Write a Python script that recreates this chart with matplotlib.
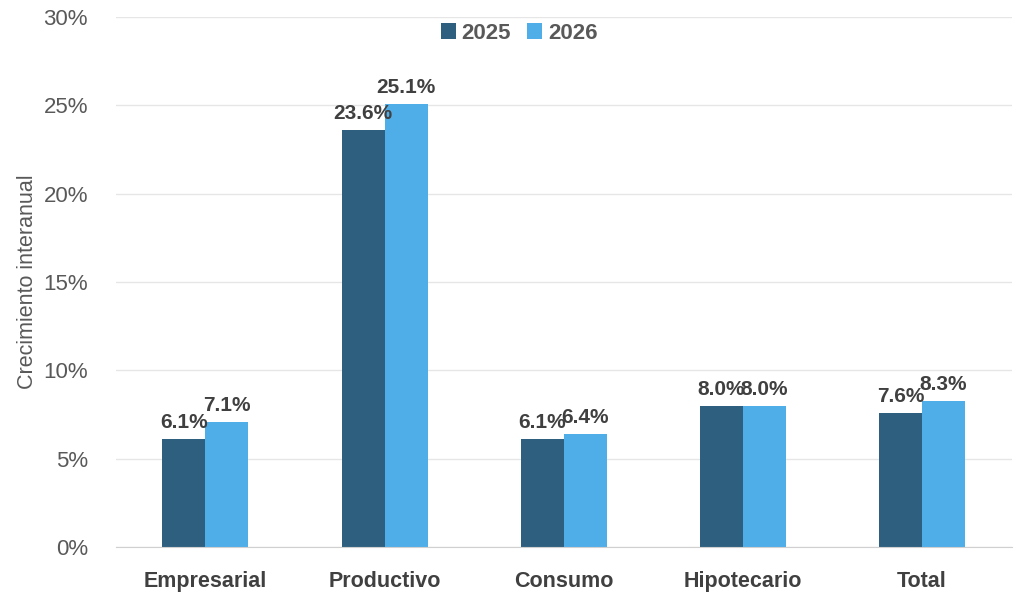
import matplotlib
matplotlib.use("Agg")
import matplotlib.pyplot as plt
import numpy as np
from matplotlib.ticker import FuncFormatter

categories = ["Empresarial", "Productivo", "Consumo", "Hipotecario", "Total"]
growth_2025 = [6.1, 23.6, 6.1, 8.0, 7.6]
growth_2026 = [7.1, 25.1, 6.4, 8.0, 8.3]

plt.rcParams['font.family'] = ['Liberation Sans', 'DejaVu Sans']

color_2025 = "#2E5F7F"
color_2026 = "#4FADE8"
text_gray = "#595959"
label_gray = "#404040"

fig = plt.figure(figsize=(10.24, 6.08), dpi=100)
ax = fig.add_axes([0.113, 0.1, 0.875, 0.872])

x = np.arange(len(categories))
w = 0.24
b1 = ax.bar(x - w / 2, growth_2025, w, color=color_2025, label="2025")
b2 = ax.bar(x + w / 2, growth_2026, w, color=color_2026, label="2026")

# data labels
for bars, vals in [(b1, growth_2025), (b2, growth_2026)]:
    for rect, v in zip(bars, vals):
        ax.annotate(f"{v:.1f}%", (rect.get_x() + rect.get_width() / 2, v),
                    xytext=(0, 5), textcoords="offset points",
                    ha="center", va="bottom", fontsize=15, fontweight="bold",
                    color=label_gray)

ax.set_xlim(-0.5, len(categories) - 0.5)
ax.set_ylim(0, 30)
ax.set_yticks(np.arange(0, 31, 5))
ax.yaxis.set_major_formatter(FuncFormatter(lambda v, p: f"{v:.0f}%"))
ax.set_xticks(x)
ax.set_xticklabels(categories, fontsize=15.5, fontweight="bold", color=label_gray)
ax.tick_params(axis="y", labelsize=16, labelcolor=text_gray, length=0, pad=20)
ax.tick_params(axis="x", length=0, pad=17)

ax.grid(axis="y", color="#E6E6E6", linewidth=1)
ax.set_axisbelow(True)
for s in ["top", "right", "left"]:
    ax.spines[s].set_visible(False)
ax.spines["bottom"].set_color("#D0D0D0")

ax.set_ylabel("Crecimiento interanual", fontsize=15.5, color=text_gray, labelpad=4)

leg = ax.legend(loc="upper center", bbox_to_anchor=(0.45, 1.027), ncol=2, frameon=False,
                prop={"size": 16, "weight": "bold"}, handlelength=0.7, handleheight=0.7,
                columnspacing=0.7, handletextpad=0.25)
for t in leg.get_texts():
    t.set_color(text_gray)

fig.savefig("out.png", dpi=100)
